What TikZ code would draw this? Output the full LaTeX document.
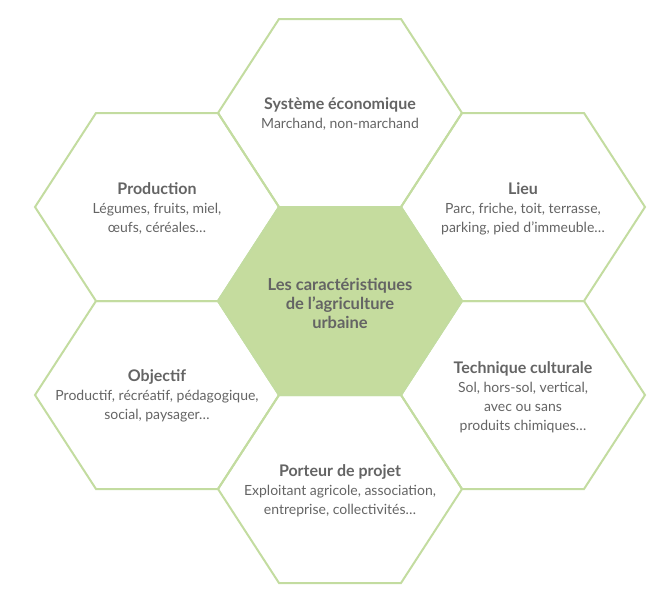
\documentclass[tikz,border=0pt]{standalone}
\usepackage{fontspec}
\setmainfont{Lato}
\definecolor{hexline}{HTML}{C3DCA0}
\definecolor{hexfill}{HTML}{C5DC9E}
\definecolor{txtgray}{HTML}{646464}
\newcommand\hextitle[1]{{\fontsize{16}{19}\selectfont\bfseries #1}}
\begin{document}
\begin{tikzpicture}[x=1pt,y=-1pt,
  hex/.style={draw=hexline, line width=2pt, line join=miter},
  hexc/.style={hex, fill=hexfill},
  lbl/.style={align=center, text=txtgray, inner sep=0pt, font=\fontsize{14}{19}\selectfont},
  clbl/.style={lbl, font=\fontsize{16.5}{19}\selectfont\bfseries}]
\useasboundingbox (0,0) rectangle (666,600);
\foreach \cx/\cy in {340/113, 157/207, 523/207, 157/395, 523/395, 340/489}{
  \draw[hex,shift={(\cx,\cy)}] (-122,0) -- (-61,-94) -- (61,-94) -- (122,0) -- (61,94) -- (-61,94) -- cycle;
}
\draw[hexc,shift={(340,301)}] (-122,0) -- (-61,-94) -- (61,-94) -- (122,0) -- (61,94) -- (-61,94) -- cycle;
\node[lbl] (eco) at (340,114) {\hextitle{Système économique}\\Marchand, non-marchand};
\node[lbl] (prod) at (157,208) {\hextitle{Production}\\Légumes, fruits, miel,\\œufs, céréales…};
\node[lbl] (lieu) at (523,209) {\hextitle{Lieu}\\Parc, friche, toit, terrasse,\\parking, pied d’immeuble…};
\node[lbl] (obj) at (157,396) {\hextitle{Objectif}\\Productif, récréatif, pédagogique,\\social, paysager…};
\node[lbl] (tech) at (523,397) {\hextitle{Technique culturale}\\Sol, hors-sol, vertical,\\avec ou sans\\produits chimiques…};
\node[lbl] (port) at (340,491) {\hextitle{Porteur de projet}\\Exploitant agricole, association,\\entreprise, collectivités…};
\node[clbl] (ctr) at (340,303) {Les caractéristiques\\de l’agriculture\\urbaine};
\end{tikzpicture}
\end{document}
